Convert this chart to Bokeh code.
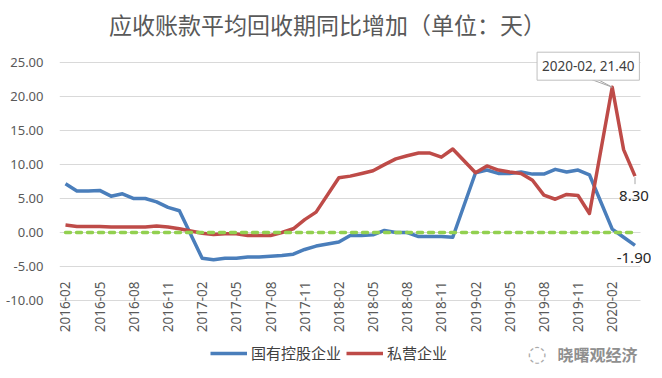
import math
from bokeh.plotting import figure
from bokeh.models import (FixedTicker, LinearAxis, Label, Legend, LegendItem,
                          NumeralTickFormatter, Range1d, Grid)
from bokeh.embed import file_html
from bokeh.resources import INLINE

# ---------------- data ----------------
months = []
for yr in range(2016, 2021):
    for m in range(1, 13):
        lab = f"{yr}-{m:02d}"
        if "2016-02" <= lab <= "2020-04":
            months.append(lab)

# 国有控股企业 (January values are not published -> None)
state_owned = [7.17, 6.1, 6.1, 6.2, 5.35, 5.7, 5.0, 5.0, 4.5, 3.7, 3.2,
               None, -3.8, -4.0, -3.8, -3.8, -3.6, -3.6, -3.5, -3.4, -3.2, -2.5, -2.0,
               None, -1.4, -0.45, -0.45, -0.35, 0.3, 0.0, 0.0, -0.6, -0.6, -0.6, -0.7,
               None, 8.8, 9.2, 8.7, 8.7, 8.9, 8.6, 8.6, 9.3, 8.9, 9.2, 8.5,
               None, 0.5, -0.7, -1.9]
# 私营企业
private = [1.1, 0.9, 0.9, 0.9, 0.8, 0.8, 0.8, 0.8, 0.95, 0.8, 0.55,
           None, -0.1, -0.3, -0.2, -0.2, -0.45, -0.45, -0.45, 0.0, 0.55, 1.9, 3.0,
           None, 8.05, 8.3, 8.7, 9.1, 10.0, 10.85, 11.3, 11.7, 11.7, 11.1, 12.3,
           None, 8.8, 9.8, 9.2, 8.9, 8.7, 7.7, 5.5, 4.9, 5.6, 5.45, 2.8,
           None, 21.4, 12.2, 8.3]
zero_line = [0.0 for _ in months]

y_ticks = [-10, -5, 0, 5, 10, 15, 20, 25]
x_tick_idx = list(range(0, len(months), 3))

title_text = "应收账款平均回收期同比增加（单位：天）"
legend_labels = ["国有控股企业", "私营企业"]
watermark = "晓曙观经济"

BLUE = "#4A7EBB"
RED = "#BE4B48"
GREEN = "#92D050"
GRAY_TXT = "#595959"

def pts(vals):
    xs = [i for i, v in enumerate(vals) if v is not None]
    ys = [v for v in vals if v is not None]
    return xs, ys

# ---------------- layout constants (pixels) ----------------
W, H = 651, 369
LEFT = 59                     # frame starts right of y tick labels
PX_X = 11.39                  # pixels per month
PX_Y = 6.79                   # pixels per unit
X0_PX = 6.0                   # first category offset from frame left
Y0_PX = 232.0                 # value 0 offset from plot top
frame_w = W - LEFT
x_start = -X0_PX / PX_X
x_end = x_start + frame_w / PX_X
y_end = Y0_PX / PX_Y
y_start = y_end - H / PX_Y

# ---------------- figure ----------------
p = figure(width=W, height=H, output_backend="svg", toolbar_location=None, title=None,
           x_range=Range1d(x_start, x_end), y_range=Range1d(y_start, y_end),
           x_axis_location=None, y_axis_location=None,
           min_border_left=LEFT, min_border_right=0, min_border_top=0, min_border_bottom=0)
for g in p.grid:
    g.visible = False
p.outline_line_color = None
p.background_fill_color = "white"
p.border_fill_color = "white"

yticker = FixedTicker(ticks=y_ticks)
yaxis = LinearAxis(ticker=yticker, formatter=NumeralTickFormatter(format="0.00"),
                   axis_line_color=None, major_tick_line_color=None, minor_tick_line_color=None,
                   major_label_text_font_size="13px", major_label_text_color=GRAY_TXT,
                   major_label_text_font="Noto Sans", major_label_standoff=10)
p.add_layout(yaxis, "left")
p.add_layout(Grid(dimension=1, ticker=yticker, grid_line_color="#D9D9D9", grid_line_width=1,
                  cross_bounds=(-0.5, len(months) - 0.5)))

xaxis = LinearAxis(fixed_location=-5, ticker=FixedTicker(ticks=x_tick_idx),
                   major_label_overrides={i: months[i] for i in x_tick_idx},
                   major_label_orientation=math.pi / 2,
                   axis_line_color=None, major_tick_line_color=None, minor_tick_line_color=None,
                   major_label_text_font_size="13.5px", major_label_text_color=GRAY_TXT,
                   major_label_text_font="Noto Sans", major_label_standoff=9)
p.add_layout(xaxis, "below")

bx, by = pts(state_owned)
rx, ry = pts(private)
r_blue = p.line(bx, by, line_color=BLUE, line_width=3.5, line_join="round")
r_red = p.line(rx, ry, line_color=RED, line_width=3.5, line_join="round")
p.line(list(range(len(months))), zero_line, line_color=GREEN, line_width=3.5,
       line_dash="5 6", line_cap="round")

legend = Legend(items=[LegendItem(label=legend_labels[0], renderers=[r_blue]),
                       LegendItem(label=legend_labels[1], renderers=[r_red])],
                orientation="horizontal", location=(151, 6),
                border_line_color=None, background_fill_alpha=0,
                label_text_font="Noto Sans CJK SC", label_text_font_size="15px",
                label_text_color="#404040", glyph_width=37, glyph_height=20,
                label_height=20, label_standoff=4, spacing=5, padding=0, margin=0)
p.add_layout(legend, "center")

# title
p.add_layout(Label(x=268, y=346, x_units="screen", y_units="screen", text=title_text,
                   text_align="center", text_baseline="middle", text_font="Noto Sans CJK SC",
                   text_font_size="23px", text_color=GRAY_TXT))

# data labels
peak = 48
last = len(months) - 1
# leader lines of the callout (from box bottom to the peak point)
p.segment(x0=[peak - 27 / PX_X, peak - 15 / PX_X], y0=[private[peak] + 10 / PX_Y, private[peak] + 8 / PX_Y],
          x1=[peak, peak], y1=[private[peak], private[peak]], line_color="#A6A6A6", line_width=1)
p.segment(x0=[last], y0=[private[last] - 1 / PX_Y], x1=[last], y1=[private[last] - 8 / PX_Y],
          line_color="#A6A6A6", line_width=1)
p.add_layout(Label(x=peak, y=private[peak], x_offset=-24, y_offset=21,
                   text=f"{months[peak]}, {private[peak]:.2f}",
                   text_align="center", text_baseline="middle", text_font="Noto Sans",
                   text_font_size="13.5px", text_color="#404040",
                   border_line_color="#BFBFBF", background_fill_color="white", padding=5))
p.add_layout(Label(x=last, y=private[last], x_offset=-1, y_offset=-20,
                   text=f"{private[last]:.2f}", text_align="center", text_baseline="middle",
                   text_font="Noto Sans", text_font_size="15px", text_color="#262626"))
p.add_layout(Label(x=last, y=state_owned[last], x_offset=-1, y_offset=-13,
                   text=f"{state_owned[last]:.2f}", text_align="center", text_baseline="middle",
                   text_font="Noto Sans", text_font_size="15px", text_color="#262626"))

# watermark
p.add_layout(Label(x=468, y=16, x_units="screen", y_units="screen", text="◌",
                   text_align="left", text_baseline="middle", text_font="DejaVu Sans",
                   text_font_size="22px", text_color="#AAAAAA"))
p.add_layout(Label(x=498, y=16, x_units="screen", y_units="screen", text=watermark,
                   text_align="left", text_baseline="middle", text_font="Noto Sans CJK SC",
                   text_font_size="16px", text_font_style="bold", text_color="#8F8F8F"))

open("out.html", "w").write(file_html(p, INLINE))
